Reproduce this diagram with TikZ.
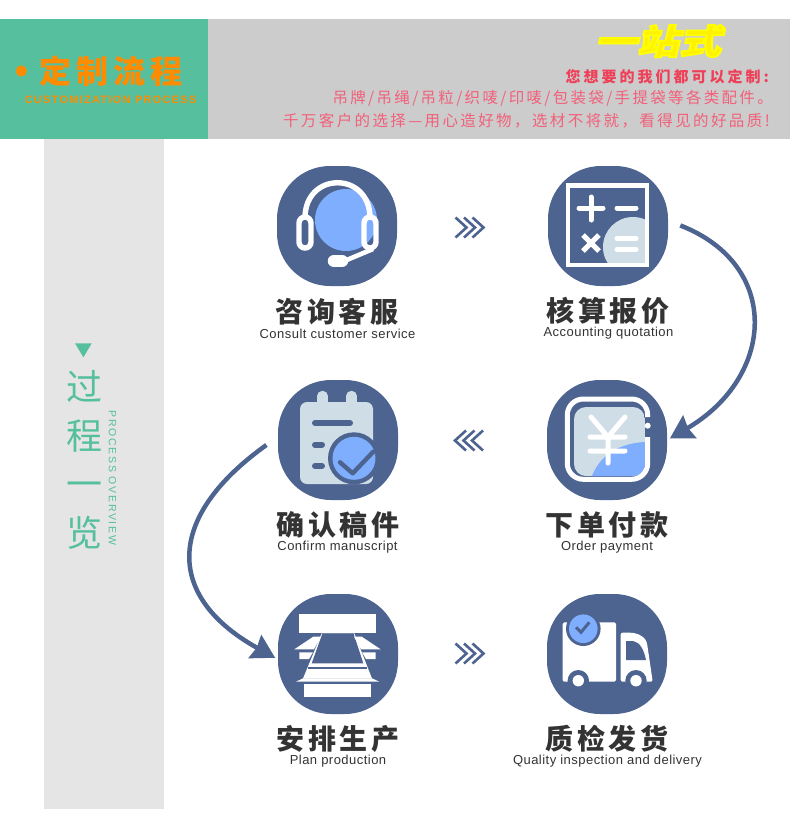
\documentclass[tikz,border=0pt]{standalone}
\usepackage{fontspec}
\usetikzlibrary{arrows.meta,calc}
\setmainfont{Liberation Sans}
\newfontfamily\cjk{Noto Sans CJK SC}
\newfontfamily\cjkt[LetterSpace=14]{Noto Sans CJK SC}
\newfontfamily\cjkh[LetterSpace=15]{Noto Sans CJK SC}
\newfontfamily\cjkr[LetterSpace=15]{Noto Sans CJK SC}
\newfontfamily\cjkrr[LetterSpace=15.5]{Noto Sans CJK SC}
\newfontfamily\cjkrb[LetterSpace=20]{Noto Sans CJK SC}
\newfontfamily\cjkfat[FakeSlant=0.2]{Noto Sans CJK SC}
\newfontfamily\ena[LetterSpace=3.6]{Liberation Sans}
\newfontfamily\enb[LetterSpace=13]{Liberation Sans}
\newfontfamily\enc[LetterSpace=16]{Liberation Sans}
\definecolor{dk}{HTML}{4D6390}
\definecolor{lt}{HTML}{CFDEE6}
\definecolor{bl}{HTML}{7FAEFF}
\definecolor{gn}{HTML}{55BF9E}
\definecolor{og}{HTML}{FF8C00}
\definecolor{rd}{HTML}{EE4058}
\definecolor{rl}{HTML}{F2607A}
\definecolor{tx}{HTML}{333333}
\tikzset{
  squircle/.style={rectangle,rounded corners=53pt,minimum size=120pt,inner sep=0pt,fill=dk},
  cntitle/.style={inner sep=0pt,text=tx,font=\cjkt\bfseries\fontsize{28}{30}\selectfont},
  entitle/.style={inner sep=0pt,text=tx,font=\ena\fontsize{13}{15}\selectfont},
  redline/.style={inner sep=0pt,anchor=east,font=\cjkr\fontsize{15.5}{18}\selectfont,text=rl},
  flow/.style={draw=dk,line width=4.5pt,-{Stealth[length=23pt,width=26pt,inset=2pt]}},
  wline/.style={draw=white,line width=5pt},
  chevr/.pic={\foreach \d in {0,8.5,17}{\draw[draw=dk,line width=2.6pt,miter limit=10] (\d,-10) -- (\d+11,0) -- (\d,10);}}
}
\begin{document}
\begin{tikzpicture}[x=1pt,y=-1pt]
\useasboundingbox (0,0) rectangle (790,823);
\fill[white] (0,0) rectangle (790,823);
% bands
\fill[gn] (0,19) rectangle (208,139);
\fill[black!20] (208,19) rectangle (790,139);
\fill[black!10] (44,139) rectangle (164,809);
% header
\fill[og] (21.3,71) circle (5.6);
\node[inner sep=0pt,text=og,font=\cjkh\bfseries\fontsize{32}{34}\selectfont] (head) at (111,71) {定制流程};
\node[inner sep=0pt,text=og,font=\enb\bfseries\fontsize{10.8}{12}\selectfont] (headen) at (110.5,99.5) {CUSTOMIZATION PROCESS};
\node[inner sep=0pt,text=yellow,font=\cjkfat\bfseries\fontsize{40}{42}\selectfont,xscale=1.05,yscale=.85] (one) at (658,41) {\special{pdf:code 2 Tr 2 w 1 1 0 RG}一站式\special{pdf:code 0 Tr 0 G 1 w}};
\node[redline,text=rd,font=\cjkrb\bfseries\fontsize{15}{18}\selectfont] (r1) at (769,77) {您想要的我们都可以定制:};
\node[redline] (r2) at (773,98) {吊牌/吊绳/吊粒/织唛/印唛/包装袋/手提袋等各类配件。};
\node[redline,font=\cjkrr\fontsize{15.5}{18}\selectfont] (r3) at (770,121) {千万客户的选择—用心造好物^^^^ff0c选材不将就^^^^ff0c看得见的好品质!};
% side
\fill[gn] (75,343.3) -- (91.7,343.3) -- (83.4,357.3) -- cycle;
\node[inner sep=0pt,text=gn,align=center,font=\cjk\fontsize{36}{48.7}\selectfont] (side) at (84,460) {过\\程\\一\\览};
\node[inner sep=0pt,text=gn,rotate=-90,font=\enc\fontsize{10.5}{12}\selectfont] (sideen) at (112.5,478) {PROCESS OVERVIEW};
% nodes
\node[squircle] (c1) at (337,226) {};
\node[squircle] (c2) at (608,226) {};
\node[squircle] (c3) at (338,440) {};
\node[squircle] (c4) at (607,440) {};
\node[squircle] (c5) at (338,654) {};
\node[squircle] (c6) at (607,654) {};
% titles
\node[cntitle] (t1) at (337,312) {咨询客服};
\node[entitle] (e1) at (337.5,334) {Consult customer service};
\node[cntitle] (t2) at (608,311) {核算报价};
\node[entitle] (e2) at (608.5,333) {Accounting quotation};
\node[cntitle] (t3) at (338,525) {确认稿件};
\node[entitle] (e3) at (337.5,547) {Confirm manuscript};
\node[cntitle] (t4) at (607,525) {下单付款};
\node[entitle] (e4) at (607,547) {Order payment};
\node[cntitle] (t5) at (338,739) {安排生产};
\node[entitle] (e5) at (338,761) {Plan production};
\node[cntitle] (t6) at (607,739) {质检发货};
\node[entitle] (e6) at (607.5,761) {Quality inspection and delivery};
% chevrons
\pic at (455.5,227.5) {chevr};
\pic[xscale=-1] at (483,440.5) {chevr};
\pic at (455.5,653.5) {chevr};
% connectors
\draw[flow,shorten <=13pt,shorten >=3pt] (c2.5) .. controls (782,265) and (775,377) .. (c4.east);
\draw[flow,shorten <=14pt,shorten >=3pt] (c3.177) .. controls (163,519) and (167,598) .. (c5.185);
% icon 1
\fill[bl] (346,220) circle (31);
\draw[wline,line width=5.4pt] (305,218) .. controls (305,171) and (370,171) .. (370,218);
\draw[wline,line width=5.4pt,rounded corners=6pt] (299,217) rectangle (311,248);
\draw[wline,line width=5.4pt,rounded corners=6pt] (364,217) rectangle (376,248);
\draw[wline,line width=4.6pt] (342,262) -- (373,249);
\draw[white,line width=12.5pt,line cap=round] (334,261) -- (342,261);
% icon 2
\begin{scope}
\clip (568,185.3) rectangle (647,265);
\fill[lt] (633,247) circle (30);
\end{scope}
\draw[wline,line width=4.5pt] (568,185.3) rectangle (647,265);
\draw[wline,line cap=round] (579,208) -- (603,208) (591,197) -- (591,220);
\draw[wline,line cap=round] (617,208) -- (636,208) (617,238.3) -- (636,238.3) (617,249.3) -- (636,249.3);
\draw[wline,line width=5pt] (583,235) -- (599,251) (599,235) -- (583,251);
% icon 3
\draw[lt,line width=10.5pt,line cap=round] (322.5,396) -- (322.5,408) (351.5,396) -- (351.5,408);
\fill[lt,rounded corners=7pt] (300,402) rectangle (373,484);
\draw[dk,line width=6pt,line cap=round] (315,423) -- (350,423) (315,444.7) -- (322,444.7) (315,466) -- (322,466);
\fill[dk] (354,458.3) circle (26);
\fill[bl] (354,458.3) circle (21.5);
\draw[dk,line width=4.4pt,line cap=round,line join=round] (340,462.3) -- (352.7,473.3) -- (373.3,451.7);
% icon 4
\begin{scope}
\clip[rounded corners=12pt] (574,407) rectangle (645,476);
\fill[lt] (574,407) rectangle (645,476);
\fill[bl] (592,476) .. controls (600,455) and (620,443) .. (645,442) -- (645,476) -- cycle;
\end{scope}
\draw[white,line width=5pt,rounded corners=16pt] (647.7,437) -- (647.7,479.3) -- (567.3,479.3) -- (567.3,399) -- (647.7,399) -- (647.7,417);
\fill[white] (647.7,425.7) circle (3);
\draw[white,line width=5pt,line cap=round,line join=round] (591,417) -- (608,437) -- (625,417) (608,437) -- (608,463) (590,437) -- (625,437) (590,451) -- (625,451);
% icon 5
\fill[white] (299.3,614) rectangle (376,633.3);
\fill[white] (304.3,684) rectangle (371,696.7);
\fill[white] (321.7,633.3) -- (354.3,633.3) -- (372,678.5) -- (303,678.5) -- cycle;
\fill[white] (303,678.3) -- (372,678.3) -- (379.3,681.7) -- (296,681.7) -- cycle;
\fill[dk] (322.5,633.3) -- (353.5,633.3) -- (363.3,663.3) -- (311.7,663.3) -- cycle;
\draw[dk,line width=2.2pt] (308.3,668.3) -- (366.7,668.3);
\fill[white] (294.3,649.3) -- (313.3,636.7) -- (321,636.7) -- (314,649.3) -- cycle;
\fill[white] (299.3,652.3) -- (313,652.3) -- (309,659) -- (299.3,659) -- cycle;
\fill[white] (380.7,649.3) -- (361.7,636.7) -- (354,636.7) -- (361,649.3) -- cycle;
\fill[white] (375.7,652.3) -- (362,652.3) -- (366,659) -- (375.7,659) -- cycle;
% icon 6
\fill[white,rounded corners=1.5pt] (562.7,622.3) rectangle (616,681.7);
\fill[white,rounded corners=2pt] (620.7,632.7) -- (632,632.7) .. controls (640,634) and (645,638) .. (647,643) -- (652.7,681.7) -- (620.7,681.7) -- cycle;
\fill[dk] (626,641) -- (633,641) .. controls (640,642) and (644,650) .. (646,660) -- (626,660) -- cycle;
\fill[dk] (578.3,680.7) circle (10.7);
\fill[dk] (636,680.7) circle (10.7);
\fill[white] (578.3,680.7) circle (5.7);
\fill[white] (636,680.7) circle (5.7);
\fill[dk] (583.3,628.7) circle (17.3);
\fill[bl] (583.3,628.7) circle (14.3);
\draw[dk,line width=3pt] (576,627.3) -- (581,632.3) -- (589.3,622.3);
\end{tikzpicture}
\end{document}
